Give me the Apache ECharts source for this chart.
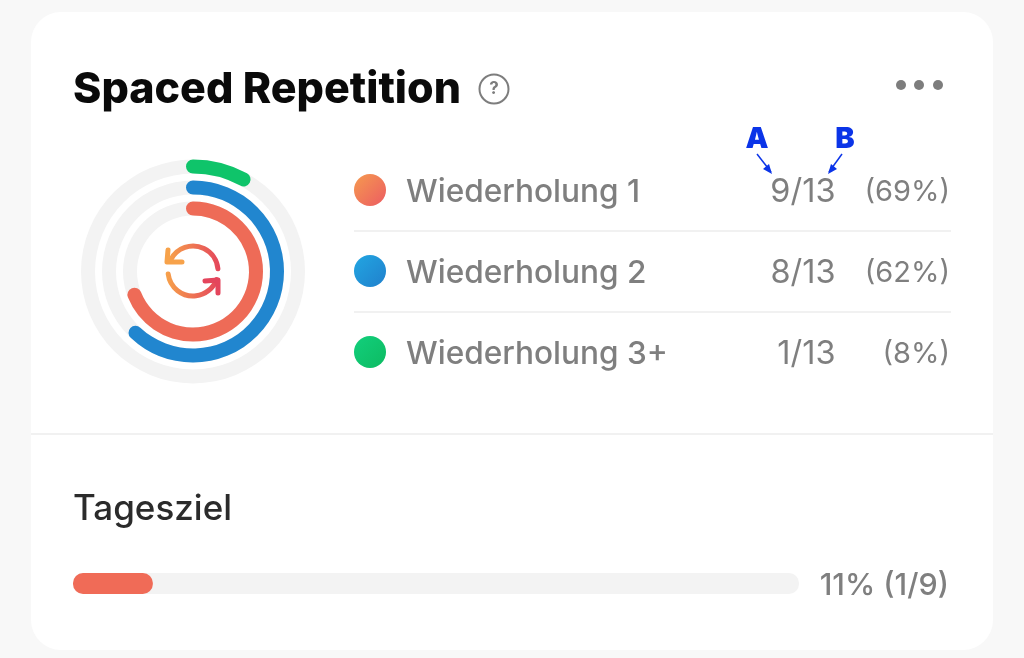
<!DOCTYPE html>
<html>
<head>
<meta charset="utf-8">
<style>
  html, body { margin: 0; padding: 0; background: #f8f8f8; }
  #chart { width: 1024px; height: 658px; }
</style>
</head>
<body>
<div id="chart"></div>
<script src="https://cdn.jsdelivr.net/npm/echarts@6/dist/echarts.min.js"></script>
<script>
const labels = ['Wiederholung 1', 'Wiederholung 2', 'Wiederholung 3+']
const done = [9, 8, 1]
const totals = [13, 13, 13]
const percents = [69, 62, 8]
const goalLabel = 'Tagesziel'
const goalPercent = [11]
const goalText = '11% (1/9)'
const title = 'Spaced Repetition'

const ringColors = ['#ee6b57', '#2186cf', '#0fc46a']
const dotStops = [['#f59a4f', '#ec5c62'], ['#22a6e2', '#2080cc'], ['#12cf7c', '#0dbb62']]
const font = 'Inter, Roboto, sans-serif'
const gray = '#7f7f7f'
const blue = '#0b34e8'

const chart = echarts.init(document.getElementById('chart'))

function grad(a, b) {
  return new echarts.graphic.LinearGradient(0, 0, 1, 1, [{ offset: 0, color: a }, { offset: 1, color: b }])
}

function deg(d) {
  return d * Math.PI / 180
}

function ring(i, radius) {
  return {
    type: 'gauge',
    center: [193, 271.5],
    radius,
    startAngle: 90,
    endAngle: -270,
    min: 0,
    max: 100,
    pointer: { show: false },
    axisTick: { show: false },
    splitLine: { show: false },
    axisLabel: { show: false },
    title: { show: false },
    detail: { show: false },
    animation: false,
    axisLine: { lineStyle: { width: 14, color: [[1, '#f3f3f3']] } },
    progress: { show: true, roundCap: true, width: 14, itemStyle: { color: ringColors[i] } },
    data: [{ value: percents[i], name: labels[i] }]
  }
}

// legend rows, built from the arrays
const rows = []
labels.forEach((name, i) => {
  const y = 192 + i * 81
  const cy = 190 + i * 81
  rows.push({ type: 'circle', shape: { cx: 370, cy, r: 16 }, style: { fill: grad(dotStops[i][0], dotStops[i][1]) } })
  rows.push({ type: 'text', style: { x: 406, y, text: name, font: '500 31.6px ' + font, fill: gray, verticalAlign: 'middle' } })
  rows.push({ type: 'text', style: { x: 835.5, y, text: done[i] + '/' + totals[i], font: '400 32.5px ' + font, fill: gray, align: 'right', verticalAlign: 'middle' } })
  rows.push({ type: 'text', style: { x: 950, y, text: '(' + percents[i] + '%)', font: '400 29px ' + font, fill: gray, align: 'right', verticalAlign: 'middle' } })
  if (i < 2) rows.push({ type: 'rect', shape: { x: 354, y: cy + 40, width: 597, height: 2 }, style: { fill: '#f1f1f1' } })
})

const iconStroke = { lineWidth: 5, lineCap: 'round', lineJoin: 'round', fill: null }
const iconGrad = new echarts.graphic.LinearGradient(0, 0, 1, 0, [{ offset: 0, color: '#f7a24a' }, { offset: 1, color: '#e4455c' }])

chart.setOption({
  animation: false,
  backgroundColor: '#f8f8f8',
  grid: { left: 73, top: 573, width: 726, height: 21 },
  xAxis: { type: 'value', min: 0, max: 100, show: false },
  yAxis: { type: 'category', data: [goalLabel], show: false },
  graphic: { elements: [
    { type: 'rect', z: -10, shape: { x: 31, y: 12, width: 962, height: 638, r: 30 }, style: { fill: '#ffffff' } },
    { type: 'rect', z: -9, shape: { x: 31, y: 433, width: 962, height: 2 }, style: { fill: '#f1f1f1' } },
    { type: 'text', style: { x: 73, y: 90, text: title, font: '800 43px ' + font, fill: '#0a0a0a', verticalAlign: 'middle' } },
    { type: 'circle', shape: { cx: 494, cy: 89, r: 14.5 }, style: { fill: null, stroke: '#7d7d7d', lineWidth: 2 } },
    { type: 'text', style: { x: 494, y: 89, text: '?', font: '700 17px ' + font, fill: '#7d7d7d', align: 'center', verticalAlign: 'middle' } },
    { type: 'circle', shape: { cx: 901, cy: 85, r: 5 }, style: { fill: '#7d7d7d' } },
    { type: 'circle', shape: { cx: 919, cy: 85, r: 5 }, style: { fill: '#7d7d7d' } },
    { type: 'circle', shape: { cx: 938, cy: 85, r: 5 }, style: { fill: '#7d7d7d' } },
    ...rows,
    { type: 'text', style: { x: 73, y: 509, text: goalLabel, font: '500 35px ' + font, fill: '#2b2b2b', verticalAlign: 'middle' } },
    { type: 'text', style: { x: 949, y: 585.5, text: goalText, font: '500 30.5px ' + font, fill: gray, align: 'right', verticalAlign: 'middle' } },
    // sync icon in the middle of the rings
    { type: 'arc', shape: { cx: 193, cy: 271, r: 25, startAngle: deg(-154), endAngle: deg(-5) }, style: { ...iconStroke, stroke: iconGrad } },
    { type: 'polyline', shape: { points: [[168, 250], [167, 262], [182, 262]] }, style: { ...iconStroke, stroke: '#f7a24a' } },
    { type: 'arc', shape: { cx: 193, cy: 271, r: 25, startAngle: deg(173), endAngle: deg(20), clockwise: false }, style: { ...iconStroke, stroke: iconGrad } },
    { type: 'polyline', shape: { points: [[205, 281], [218, 280], [218, 293]] }, style: { ...iconStroke, stroke: '#e4455c' } },
    // A / B annotation
    { type: 'text', style: { x: 757, y: 139, text: 'A', font: '900 29px ' + font, fill: blue, align: 'center', verticalAlign: 'middle' } },
    { type: 'text', style: { x: 845, y: 139, text: 'B', font: '900 29px ' + font, fill: blue, align: 'center', verticalAlign: 'middle' } },
    { type: 'line', shape: { x1: 757, y1: 154, x2: 771, y2: 172 }, style: { stroke: blue, lineWidth: 1.5 } },
    { type: 'polygon', shape: { points: [[772, 174], [763, 169], [769, 164]] }, style: { fill: blue } },
    { type: 'line', shape: { x1: 842, y1: 154, x2: 829, y2: 172 }, style: { stroke: blue, lineWidth: 1.5 } },
    { type: 'polygon', shape: { points: [[828, 174], [831, 164], [837, 169]] }, style: { fill: blue } }
  ] },
  series: [
    ring(2, 112),
    ring(1, 91),
    ring(0, 70),
    {
      type: 'bar',
      data: goalPercent,
      barWidth: 21,
      showBackground: true,
      backgroundStyle: { color: '#f3f3f3', borderRadius: 10 },
      itemStyle: { color: '#f06b57', borderRadius: 10 }
    }
  ]
})
</script>
</body>
</html>
